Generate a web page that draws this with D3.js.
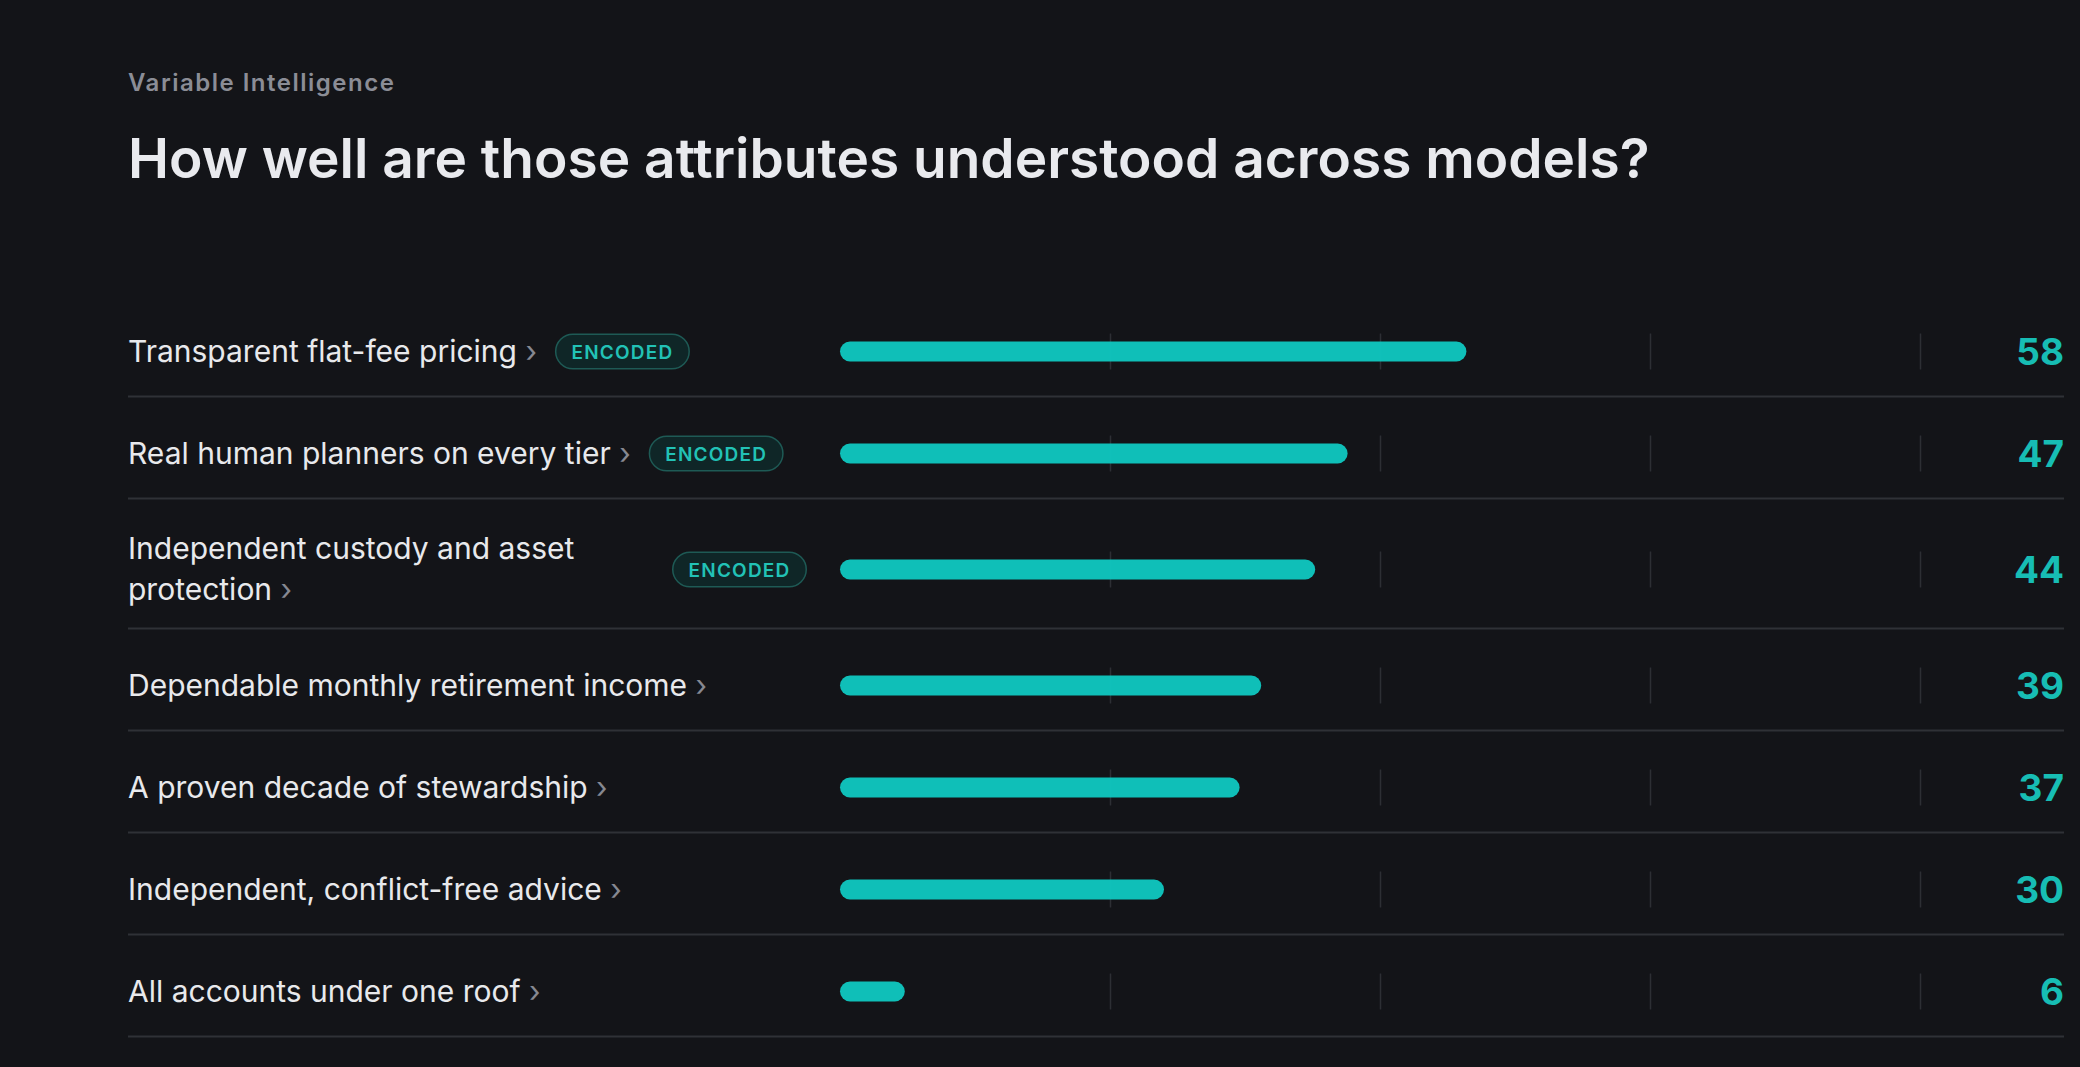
<!DOCTYPE html>
<html>
<head>
<meta charset="utf-8">
<script src="https://cdn.jsdelivr.net/npm/d3@7"></script>
<style>
  html, body { margin: 0; padding: 0; background: #131418; }
  svg { display: block; }
</style>
</head>
<body>
<svg id="chart" width="2080" height="1067"></svg>
<script>
// ---- data ----
const eyebrow = "Variable Intelligence";
const title = "How well are those attributes understood across models?";
const categories = [
  "Transparent flat-fee pricing",
  "Real human planners on every tier",
  "Independent custody and asset protection",
  "Dependable monthly retirement income",
  "A proven decade of stewardship",
  "Independent, conflict-free advice",
  "All accounts under one roof"
];
const values = [58, 47, 44, 39, 37, 30, 6];
const encoded = [true, true, true, false, false, false, false];
const badgeLabel = "ENCODED";
const gridTicks = [25, 50, 75, 100];

// ---- layout ----
const W = 2080, H = 1067;
const left = 128, right = 2064;
const labelColEnd = 807;
const barStart = 840, barEnd = 1920;
const rowsTop = 294.5;
const padTop = 30, padBottom = 18, minContent = 54, lineH = 41;
const badgeH = 36, badgeGap = 16;
const labelSize = 30;

const C = {
  bg: "#131418",
  eyebrow: "#8b8d96",
  title: "#e9eaee",
  label: "#e8e9ec",
  chevron: "#868891",
  sep: "#2f3136",
  grid: "#2d2f34",
  bar: "#0fc5be",
  value: "#17bdb4",
  badgeFill: "#0f2627",
  badgeStroke: "#1e5a55",
  badgeText: "#22c2b6"
};
const FONT = "Inter, 'Noto Sans', sans-serif";

const svg = d3.select("#chart");
svg.append("rect").attr("width", W).attr("height", H).attr("fill", C.bg);

svg.append("text")
  .attr("x", left).attr("y", 91)
  .attr("font-family", FONT).attr("font-size", 24).attr("font-weight", 600)
  .attr("letter-spacing", "1.5px")
  .attr("fill", C.eyebrow).text(eyebrow);

svg.append("text")
  .attr("x", left).attr("y", 178)
  .attr("font-family", FONT).attr("font-size", 55).attr("font-weight", 600)
  .attr("fill", C.title).text(title);

// measurement helper
const meas = svg.append("text").attr("font-family", FONT).attr("font-size", labelSize)
  .attr("visibility", "hidden");
function textW(s, size, weight, ls) {
  meas.attr("font-size", size).attr("font-weight", weight || 400)
      .attr("letter-spacing", ls || null).text(s);
  return meas.node().getComputedTextLength();
}

const x = d3.scaleLinear().domain([0, 100]).range([barStart, barEnd]);

const badgeTextW = textW(badgeLabel, 19, 600, "1.2px");
const badgeW = Math.round(badgeTextW + 33);

// compute wrapping per row
const rows = categories.map((cat, i) => {
  const full = cat + " ›";
  const maxW = encoded[i] ? (labelColEnd - left - badgeW - badgeGap) : (labelColEnd - left);
  const words = full.split(" ");
  const lines = [];
  let cur = "";
  words.forEach(w => {
    const test = cur ? cur + " " + w : w;
    if (cur && textW(test, labelSize, 400) > maxW) { lines.push(cur); cur = w; }
    else cur = test;
  });
  lines.push(cur);
  return { cat, i, lines, wrapped: lines.length > 1 };
});

let yTop = rowsTop;
rows.forEach(r => {
  const content = Math.max(minContent, r.lines.length * lineH);
  r.top = yTop;
  r.center = yTop + padTop + content / 2;
  r.bottom = yTop + padTop + content + padBottom;
  yTop = r.bottom;
});

const g = svg.append("g");
const row = g.selectAll("g.row").data(rows).join("g").attr("class", "row");

// separators
row.append("line")
  .attr("x1", left).attr("x2", right)
  .attr("y1", d => d.bottom).attr("y2", d => d.bottom)
  .attr("stroke", C.sep).attr("stroke-width", 2);

// gridlines
row.each(function(d) {
  d3.select(this).selectAll("line.grid").data(gridTicks).join("line")
    .attr("class", "grid")
    .attr("x1", t => Math.round(x(t)) + 0.5).attr("x2", t => Math.round(x(t)) + 0.5)
    .attr("y1", d.center - 18).attr("y2", d.center + 18)
    .attr("stroke", C.grid).attr("stroke-width", 1.5);
});

// bars
row.append("rect")
  .attr("x", x(0))
  .attr("y", d => d.center - 10)
  .attr("height", 20)
  .attr("width", d => x(values[d.i]) - x(0))
  .attr("rx", 10).attr("ry", 10)
  .attr("fill", C.bar).attr("fill-opacity", 0.97);

// labels
row.each(function(d) {
  const sel = d3.select(this);
  const n = d.lines.length;
  const firstCenter = d.center - (n - 1) * lineH / 2;
  let lastEnd = left;
  d.lines.forEach((ln, k) => {
    const t = sel.append("text")
      .attr("x", left).attr("y", firstCenter + k * lineH + 10)
      .attr("font-family", FONT).attr("font-size", labelSize).attr("font-weight", 400)
      .attr("fill", C.label);
    if (ln.endsWith("›")) {
      t.append("tspan").text(ln.slice(0, -1));
      t.append("tspan").attr("fill", C.chevron).text("›");
    } else {
      t.text(ln);
    }
    lastEnd = left + t.node().getComputedTextLength();
  });
  if (encoded[d.i]) {
    const bx = d.wrapped ? labelColEnd - badgeW : lastEnd + badgeGap + 2;
    const bg = sel.append("g").attr("transform", `translate(${bx},${d.center - badgeH / 2})`);
    bg.append("rect")
      .attr("x", 0.75).attr("y", 0.75)
      .attr("width", badgeW - 1.5).attr("height", badgeH - 1.5)
      .attr("rx", (badgeH - 1.5) / 2)
      .attr("fill", C.badgeFill).attr("stroke", C.badgeStroke).attr("stroke-width", 1.5);
    bg.append("text")
      .attr("x", badgeW / 2).attr("y", badgeH / 2 + 7)
      .attr("text-anchor", "middle")
      .attr("font-family", FONT).attr("font-size", 19).attr("font-weight", 600)
      .attr("letter-spacing", "1.2px")
      .attr("fill", C.badgeText).text(badgeLabel);
  }
});

// values
row.append("text")
  .attr("x", right).attr("y", d => d.center + 13)
  .attr("text-anchor", "end")
  .attr("font-family", FONT).attr("font-size", 37).attr("font-weight", 700)
  .attr("fill", C.value)
  .text(d => values[d.i]);

meas.remove();
</script>
</body>
</html>
